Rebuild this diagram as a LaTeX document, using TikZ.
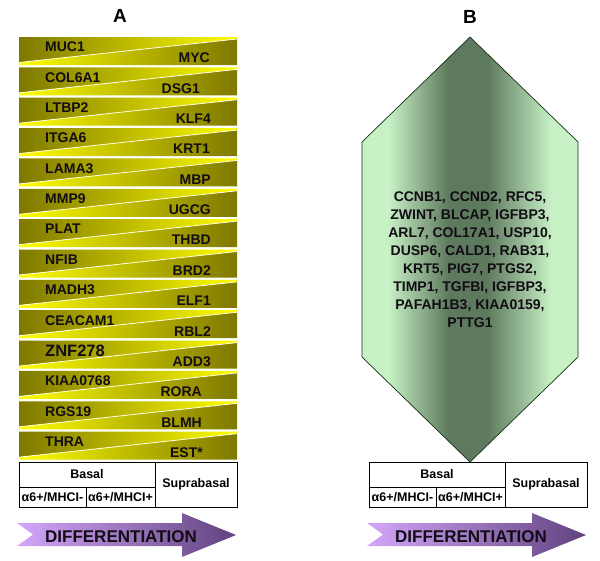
\documentclass[tikz,border=0pt]{standalone}
\usepackage{fontspec}
\setmainfont{Liberation Sans}
\usetikzlibrary{calc}
\definecolor{genedark}{RGB}{126,120,0}
\definecolor{genelight}{RGB}{255,255,0}
\definecolor{hexlight}{RGB}{200,242,198}
\definecolor{hexdark}{RGB}{94,122,94}
\definecolor{hexline}{RGB}{20,45,20}
\definecolor{arrowlight}{RGB}{212,166,250}
\definecolor{arrowdark}{RGB}{96,66,126}
\definecolor{inktxt}{RGB}{18,12,20}
\pgfdeclarehorizontalshading{hexshade}{100bp}{color(0bp)=(hexlight); color(25bp)=(hexlight); color(31bp)=(hexlight);
  color(45bp)=(hexdark); color(54bp)=(hexdark); color(69bp)=(hexlight); color(75bp)=(hexlight); color(100bp)=(hexlight)}
\tikzset{
  genetxt/.style={font=\fontsize{14}{15}\selectfont\bfseries, inner sep=0pt, text=inktxt},
  celltxt/.style={font=\fontsize{12.5}{14}\selectfont\bfseries, inner sep=0pt},
  paneltxt/.style={font=\fontsize{19}{20}\selectfont\bfseries, inner sep=0pt},
  difftxt/.style={font=\fontsize{17}{19}\selectfont\bfseries, inner sep=0pt, text=inktxt}
}
% one row of panel A: #1 index, #2 left gene, #3 right gene, #4 right edge of right gene
\def\generow#1#2#3#4{%
  \pgfmathsetmacro{\rowtop}{37+30.36*(#1-1)}
  \shade[left color=genedark, right color=genelight] (19,\rowtop) -- (237,\rowtop) -- (237,\rowtop+2) -- (19,\rowtop+25.5) -- cycle;
  \shade[left color=genelight, right color=genedark] (19,\rowtop+25.5) -- (237,\rowtop+2) -- (237,\rowtop+28) -- (19,\rowtop+28) -- cycle;
  \draw[white!90!yellow, line width=0.8pt] (19,\rowtop+25.5) -- (237,\rowtop+2);
  \node[genetxt, anchor=west] (gl#1) at (45,\rowtop+10) {#2};
  \node[genetxt, anchor=east] (gr#1) at (#4,\rowtop+21) {#3};
}
% the DIFFERENTIATION arrow, shifted by #1
\def\diffarrow#1#2{%
  \shade[left color=arrowlight, right color=arrowdark] (#1+17,523) -- (#1+182,523) -- (#1+182,513) -- (#1+236,535) -- (#1+182,557) -- (#1+182,546) -- (#1+17,546) -- (#1+33,534.5) -- cycle;
  \node[difftxt] (#2) at (#1+121,537) {DIFFERENTIATION};
}
% the Basal / Suprabasal table, shifted by #1
\def\layertable#1#2{%
  \draw[line width=0.6pt] (#1+19,462) rectangle (#1+237,507);
  \draw[line width=0.6pt] (#1+155,462) -- (#1+155,507);
  \draw[line width=0.6pt] (#1+19,487) -- (#1+155,487);
  \draw[line width=0.6pt] (#1+86,487) -- (#1+86,507);
  \node[celltxt] (#2basal) at (#1+87,474.5) {Basal};
  \node[celltxt] (#2supra) at (#1+196,484.5) {Suprabasal};
  \node[celltxt] (#2neg) at (#1+52.5,497.5) {α6+/MHCI-};
  \node[celltxt] (#2pos) at (#1+120.5,497.5) {α6+/MHCI+};
}

\begin{document}
\begin{tikzpicture}[x=1pt, y=-1pt]
			%%%%% START %%%%%
			\useasboundingbox (0,0) rectangle (600,560);
			
			\node[paneltxt] (titleA) at (120,16) {A};
			\node[paneltxt] (titleB) at (470,17) {B};
			
			\generow{1}{MUC1}{MYC}{210}
			\generow{2}{COL6A1}{DSG1}{200}
			\generow{3}{LTBP2}{KLF4}{211}
			\generow{4}{ITGA6}{KRT1}{210}
			\generow{5}{LAMA3}{MBP}{211}
			\generow{6}{MMP9}{UGCG}{211}
			\generow{7}{PLAT}{THBD}{211}
			\generow{8}{NFIB}{BRD2}{211}
			\generow{9}{MADH3}{ELF1}{211}
			\generow{10}{CEACAM1}{RBL2}{211}
			\generow{11}{\fontsize{16.5}{18}\selectfont ZNF278}{ADD3}{211}
			\generow{12}{KIAA0768}{RORA}{202}
			\generow{13}{RGS19}{BLMH}{202}
			\generow{14}{THRA}{EST*}{203}
			
			\layertable{0}{a}
			\diffarrow{0}{diffA}
			
			\shadedraw[shading=hexshade, draw=hexline, line width=0.7pt]
			  (470,37) -- (578,142) -- (578,357) -- (470,462) -- (362,357) -- (362,142) -- cycle;
			\node[genetxt, font=\fontsize{14}{18}\selectfont\bfseries, align=center] (genesB) at (470,259.5)
			  {CCNB1, CCND2, RFC5,\\ ZWINT, BLCAP, IGFBP3,\\ ARL7, COL17A1, USP10,\\ DUSP6, CALD1, RAB31,\\
			   KRT5, PIG7, PTGS2,\\ TIMP1, TGFBI, IGFBP3,\\ PAFAH1B3, KIAA0159,\\ PTTG1};
			
			\layertable{350}{b}
			\diffarrow{350}{diffB}
			
			%%%%% END %%%%%
\end{tikzpicture}
\end{document}
